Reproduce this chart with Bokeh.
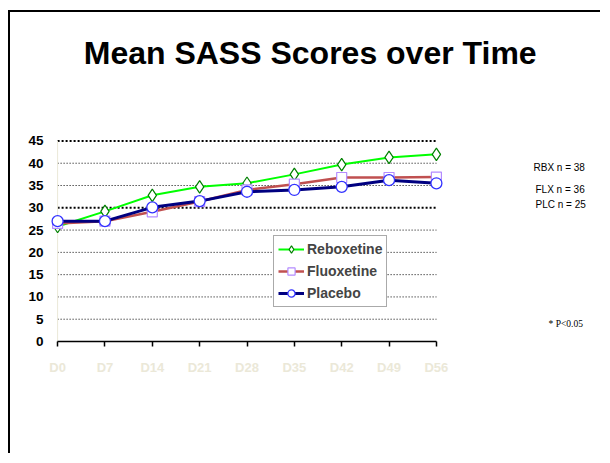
from bokeh.plotting import figure
from bokeh.models import Range1d, FixedTicker, Legend, LegendItem, Label
from bokeh.embed import file_html
from bokeh.resources import INLINE

# ---- data ----
days = ["D0", "D7", "D14", "D21", "D28", "D35", "D42", "D49", "D56"]
reboxetine = [25.8, 29.2, 32.8, 34.7, 35.5, 37.5, 39.7, 41.3, 42.0]
fluoxetine = [26.5, 27.0, 29.1, 31.4, 34.0, 35.3, 36.8, 36.8, 36.9]
placebo = [27.0, 27.0, 30.1, 31.5, 33.6, 34.0, 34.7, 36.2, 35.5]
y_ticks = [0, 5, 10, 15, 20, 25, 30, 35, 40, 45]
bold_grid = [30, 45]
title_text = "Mean SASS Scores over Time"
n_notes = ["RBX  n = 38", "FLX  n =  36", "PLC  n = 25"]
footnote = "* P<0.05"

xs = list(range(len(days)))
FONT = "Liberation Sans"

# frame spans the whole canvas to the right and top; axes limited with bounds
p = figure(width=592, height=443, output_backend="svg", toolbar_location=None,
           x_range=Range1d(-0.15, 11.508), y_range=Range1d(0, 73.82),
           min_border_left=40, min_border_right=0, min_border_top=0, min_border_bottom=114)
p.styles = {"border-left": "2px solid black", "border-top": "2px solid black",
            "margin-top": "10px", "margin-left": "8px"}
p.outline_line_color = None
p.background_fill_color = "white"
p.border_fill_color = "white"
p.xgrid.visible = False
p.ygrid.visible = False

# dotted horizontal gridlines between first and last category
thin = [t for t in y_ticks if t not in bold_grid and t != y_ticks[0]]
p.segment(x0=[xs[0]] * len(thin), y0=thin, x1=[xs[-1]] * len(thin), y1=thin,
          line_color="black", line_dash="1 2", line_width=1)
p.segment(x0=[xs[0]] * len(bold_grid), y0=bold_grid, x1=[xs[-1]] * len(bold_grid), y1=bold_grid,
          line_color="black", line_dash="2 2", line_width=2)

# x axis
xa = p.xaxis[0]
xa.ticker = FixedTicker(ticks=xs)
xa.major_label_overrides = {i: d for i, d in enumerate(days)}
xa.bounds = (xs[0], xs[-1])
xa.axis_line_width = 1.5
xa.axis_line_color = "black"
xa.major_tick_out = 5
xa.major_tick_in = 0
xa.major_tick_line_width = 1.5
xa.minor_tick_line_color = None
xa.major_label_text_font = FONT
xa.major_label_text_font_style = "bold"
xa.major_label_text_font_size = "13px"
xa.major_label_text_color = "#ebe8d8"
xa.major_label_standoff = 13

# y axis
ya = p.yaxis[0]
ya.ticker = FixedTicker(ticks=y_ticks)
ya.axis_line_color = None
ya.major_tick_line_color = None
ya.minor_tick_line_color = None
ya.major_label_text_font = FONT
ya.major_label_text_font_style = "bold"
ya.major_label_text_font_size = "13.5px"
ya.major_label_text_color = "black"
ya.major_label_standoff = 1

# faint vertical axis line at first category
p.segment(x0=[xs[0]], y0=[y_ticks[0]], x1=[xs[0]], y1=[y_ticks[-1]], line_color="#ebe8d8", line_width=1)

# series
l1 = p.line(xs, reboxetine, line_color="#00ff00", line_width=2)
m1 = p.scatter(xs, reboxetine, marker="diamond", size=12.5,
               fill_color="white", line_color="#008000", line_width=1.2)
l2 = p.line(xs, fluoxetine, line_color="#c05050", line_width=2.5)
m2 = p.scatter(xs, fluoxetine, marker="square", size=10,
               fill_color="white", line_color="#b48cff", line_width=1.2)
l3 = p.line(xs, placebo, line_color="#000080", line_width=3)
m3 = p.scatter(xs, placebo, marker="circle", size=11,
               fill_color="white", line_color="#3333ff", line_width=1.3)

legend = Legend(items=[LegendItem(label="Reboxetine", renderers=[l1, m1]),
                       LegendItem(label="Fluoxetine", renderers=[l2, m2]),
                       LegendItem(label="Placebo", renderers=[l3, m3])],
                location=(223, 34), orientation="vertical",
                border_line_color="#555555", border_line_width=1.5,
                background_fill_color="white", background_fill_alpha=1,
                label_text_font=FONT, label_text_font_style="bold", label_text_font_size="14px",
                glyph_width=26, glyph_height=18, label_height=18, label_standoff=3,
                spacing=4, padding=4, margin=0)
p.add_layout(legend)

# title and notes (screen units relative to plot frame)
p.add_layout(Label(x=259.7, y=288.3, x_units="screen", y_units="screen", text=title_text,
                   text_font=FONT, text_font_style="bold", text_font_size="32px",
                   text_align="center", text_baseline="middle", text_color="black"))
note_pos = [(483, 174.3), (485, 151.7), (485, 136.7)]
for (nx, ny), t in zip(note_pos, n_notes):
    p.add_layout(Label(x=nx, y=ny, x_units="screen", y_units="screen", text=t,
                       text_font=FONT, text_font_size="10px", text_baseline="middle",
                       text_color="black"))
p.add_layout(Label(x=498, y=18, x_units="screen", y_units="screen", text=footnote,
                   text_font="Liberation Serif", text_font_size="9.5px", text_baseline="middle",
                   text_color="black"))

open("out.html", "w").write(file_html(p, INLINE))
